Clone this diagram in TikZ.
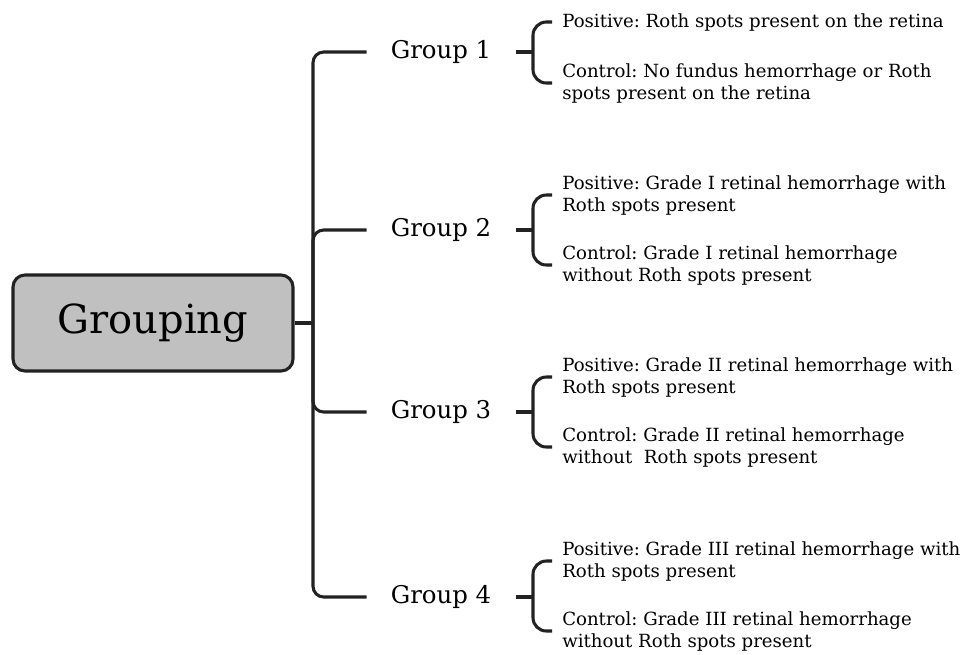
\documentclass[tikz,border=0pt]{standalone}
\usepackage{fontspec}
\setmainfont{DejaVu Serif}
\usepackage{tikz}

\definecolor{boxgray}{HTML}{C0C0C0}
\definecolor{inkdark}{HTML}{222222}

\begin{document}
\frenchspacing
\begin{tikzpicture}[
x=0.75pt, y=-0.75pt,
rootbox/.style={rectangle, rounded corners=9pt, draw=inkdark, fill=boxgray, line width=2.3pt, minimum width=210pt, minimum height=72pt, font=\fontsize{30}{35}\selectfont},
grp/.style={inner xsep=18pt, inner ysep=0pt, font=\fontsize{18.3}{22}\selectfont},
desc/.style={anchor=west, align=left, inner xsep=7.5pt, inner ysep=0pt, font=\fontsize{13.6}{16.5}\selectfont},
line/.style={draw=inkdark, line width=2.3pt, rounded corners=8pt},
brace/.style={draw=inkdark, line width=2.3pt, rounded corners=10pt}
]
\useasboundingbox (0,0) rectangle (973,654);
%Nodes
\node[rootbox]   (root)   at (153,323)    {Grouping};
\coordinate      (hub)    at (313,323);
\node[grp]       (g1)     at (441,52)     {Group 1};
\node[grp]       (g2)     at (441,230)    {Group 2};
\node[grp]       (g3)     at (441,412)    {Group 3};
\node[grp]       (g4)     at (441,597)    {Group 4};
\coordinate      (s1)     at (533,52);
\coordinate      (s2)     at (533,230);
\coordinate      (s3)     at (533,412);
\coordinate      (s4)     at (533,597);
\node[desc]      (pos1)   at (552,22)     {Positive: Roth spots present on the retina};
\node[desc]      (con1)   at (552,83)     {Control: No fundus hemorrhage or Roth\\spots present on the retina};
\node[desc]      (pos2)   at (552,195)    {Positive: Grade I retinal hemorrhage with\\Roth spots present};
\node[desc]      (con2)   at (552,265)    {Control: Grade I retinal hemorrhage\\without Roth spots present};
\node[desc]      (pos3)   at (552,377)    {Positive: Grade II retinal hemorrhage with\\Roth spots present};
\node[desc]      (con3)   at (552,447)    {Control: Grade II retinal hemorrhage\\without\ \ Roth spots present};
\node[desc]      (pos4)   at (552,561)    {Positive: Grade III retinal hemorrhage with\\Roth spots present};
\node[desc]      (con4)   at (552,631)    {Control: Grade III retinal hemorrhage\\without Roth spots present};
%Lines
\draw[line] (root) -- (hub);
\draw[line] (g1.west) -| (hub);
\draw[line] (g2.west) -| (hub);
\draw[line] (g3.west) -| (hub);
\draw[line] (g4.west) -| (hub);
\draw[line] (g1.east) -- (s1);
\draw[line] (g2.east) -- (s2);
\draw[line] (g3.east) -- (s3);
\draw[line] (g4.east) -- (s4);
\draw[brace] (pos1.west) -| (s1) |- (con1.west);
\draw[brace] (pos2.west) -| (s2) |- (con2.west);
\draw[brace] (pos3.west) -| (s3) |- (con3.west);
\draw[brace] (pos4.west) -| (s4) |- (con4.west);
\end{tikzpicture}
\end{document}
